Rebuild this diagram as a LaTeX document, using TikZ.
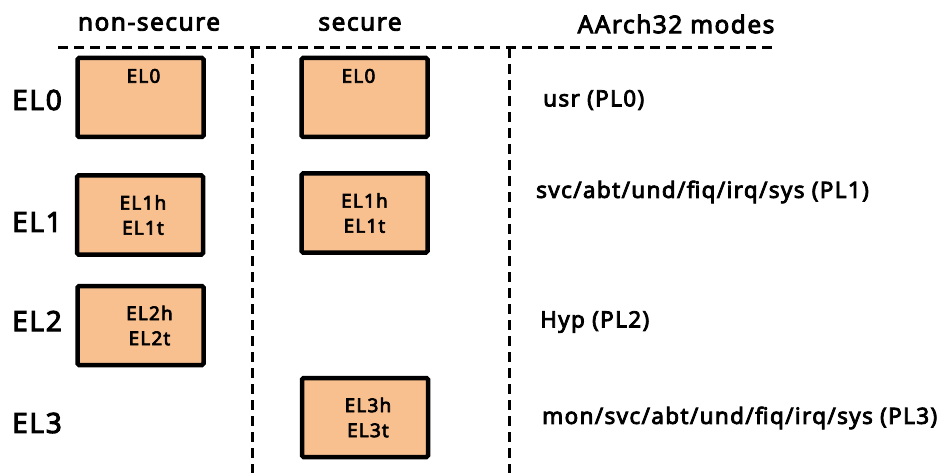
\documentclass[tikz,border=0pt]{standalone}
\usepackage{fontspec}
\setmainfont{Noto Sans}[BoldFont={Noto Sans}, BoldFeatures={FakeBold=3.5, LetterSpace=6}]
\usetikzlibrary{positioning}
\definecolor{elfill}{RGB}{249,192,143}
\tikzset{
    node distance=1cm,
    every node/.style={inner sep=0pt},
    elbox/.style={draw, line width=4.5pt, fill=elfill, rounded corners=1.5pt,
        minimum width=126pt, minimum height=79pt, align=center,
        font=\bfseries\fontsize{19}{25}\selectfont},
    eltext/.style={font=\bfseries\fontsize{19}{25}\selectfont},
    head/.style={font=\bfseries\fontsize{24.5}{28}\selectfont},
    level/.style={anchor=west, font=\bfseries\fontsize{28}{32}\selectfont},
    mode/.style={anchor=west, font=\bfseries\fontsize{22.5}{26}\selectfont},
    divider/.style={line width=3pt, dash pattern=on 10pt off 6pt}
}

\begin{document}
\begin{tikzpicture}[x=1pt, y=-1pt]
        \useasboundingbox (0,0) rectangle (937,473);
        % column headers
        \node[head] (ns) at (149,24) {non-secure};
        \node[head] (s) at (360,24) {secure};
        \node[head] (modes) at (676,24) {AArch32 modes};
        % dividers
        \coordinate (hl) at (58,48);
        \coordinate (hr) at (773,48);
        \coordinate (v1t) at (252,48);
        \coordinate (v1b) at (252,473);
        \coordinate (v2t) at (509,48);
        \coordinate (v2b) at (509,473);
        \draw[divider] (hl) -- (hr);
        \draw[divider] (v1t) -- (v1b);
        \draw[divider] (v2t) -- (v2b);
        % exception levels
        \node[level] (el0) at (12,100) {EL0};
        \node[level] (el1) at (12,222) {EL1};
        \node[level] (el2) at (12,321) {EL2};
        \node[level] (el3) at (12,423) {EL3};
        % non-secure boxes
        \node[elbox] (nsel0) at (140.5,97.5) {};
        \node[eltext, below=13pt of nsel0.north, xshift=3pt] (nsel0t) {EL0};
        \node[elbox] (nsel1) at (140,215) {\hspace*{6pt}EL1h\\\hspace*{6pt}EL1t};
        \node[elbox] (nsel2) at (140.5,325.5) {\hspace*{18pt}EL2h\\\hspace*{18pt}EL2t};
        % secure boxes
        \node[elbox] (sel0) at (364.5,97.5) {};
        \node[eltext, below=13pt of sel0.north, xshift=-6pt] (sel0t) {EL0};
        \node[elbox] (sel1) at (364.5,213) {EL1h\\EL1t};
        \node[elbox] (sel3) at (365,417.5) {\hspace*{6pt}EL3h\\\hspace*{6pt}EL3t};
        % AArch32 modes
        \node[mode] (pl0) at (543,100) {usr (PL0)};
        \node[mode] (pl1) at (536,192) {svc/abt/und/fiq/irq/sys (PL1)};
        \node[mode] (pl2) at (540,322) {Hyp (PL2)};
        \node[mode] (pl3) at (542,418) {mon/svc/abt/und/fiq/irq/sys (PL3)};
    \end{tikzpicture}
\end{document}
